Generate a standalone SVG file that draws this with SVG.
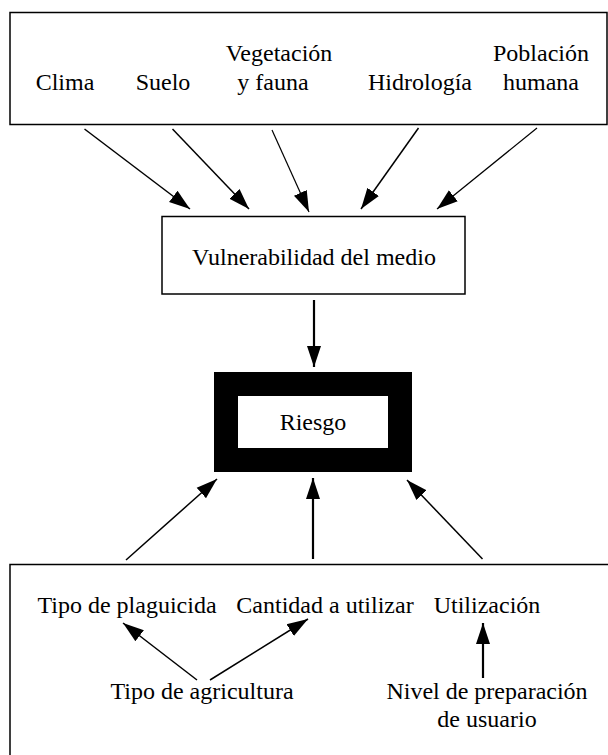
<svg xmlns="http://www.w3.org/2000/svg" width="608" height="755" viewBox="0 0 608 755">
<defs>
<style>
.box{fill:#fff;stroke:#000;stroke-width:1.5}
.c{stroke:#000;stroke-width:1.5;fill:none;marker-end:url(#ah)}
.t{stroke-width:1.2}
.v{stroke-width:2.2}
</style>
<marker id="ah" markerUnits="userSpaceOnUse" markerWidth="22" markerHeight="16" refX="21" refY="7" orient="auto" viewBox="0 0 22 14">
<path d="M0,0 L21,7 L0,14 z" fill="#000"/>
</marker>
</defs>
<rect width="608" height="755" fill="#fff"/>
<g font-family="'Liberation Serif', 'Times New Roman', serif" font-size="24" text-anchor="middle" fill="#000">
<g id="factores">
<rect class="box" x="10" y="12.5" width="597" height="112"/>
<text x="65" y="90">Clima</text>
<text x="163" y="90">Suelo</text>
<text x="279" y="61">Vegetación</text>
<text x="273" y="90">y fauna</text>
<text x="420" y="90">Hidrología</text>
<text x="541" y="61">Población</text>
<text x="541" y="90">humana</text>
</g>
<g id="vulnerabilidad">
<rect class="box" x="162" y="216.5" width="303" height="77.5"/>
<text x="314" y="265">Vulnerabilidad del medio</text>
</g>
<g id="riesgo">
<rect x="214" y="372" width="198" height="100" fill="#000"/>
<rect x="238" y="396" width="150" height="52" fill="#fff"/>
<text x="313" y="430">Riesgo</text>
</g>
<g id="uso">
<rect class="box" x="10" y="564.5" width="610" height="200"/>
<text x="127" y="613">Tipo de plaguicida</text>
<text x="325" y="613">Cantidad a utilizar</text>
<text x="487" y="613">Utilización</text>
<text x="202" y="699">Tipo de agricultura</text>
<text x="487" y="699">Nivel de preparación</text>
<text x="487" y="727">de usuario</text>
</g>
</g>
<g id="connectors">
<line class="c" x1="84.5" y1="129" x2="190" y2="209"/>
<line class="c" x1="172.5" y1="129" x2="249" y2="209"/>
<line class="c t" x1="272" y1="130" x2="309" y2="212"/>
<line class="c" x1="418.5" y1="128" x2="361" y2="209"/>
<line class="c t" x1="537" y1="128" x2="437" y2="209"/>
<line class="c v" x1="314" y1="300" x2="314" y2="367"/>
<line class="c" x1="126" y1="560" x2="217" y2="479"/>
<line class="c v" x1="313" y1="559" x2="313" y2="478"/>
<line class="c" x1="482.5" y1="559" x2="407" y2="480"/>
<line class="c" x1="197" y1="680" x2="123" y2="623"/>
<line class="c" x1="210" y1="680" x2="308" y2="619"/>
<line class="c v" x1="483" y1="678" x2="483" y2="623"/>
</g>
</svg>
